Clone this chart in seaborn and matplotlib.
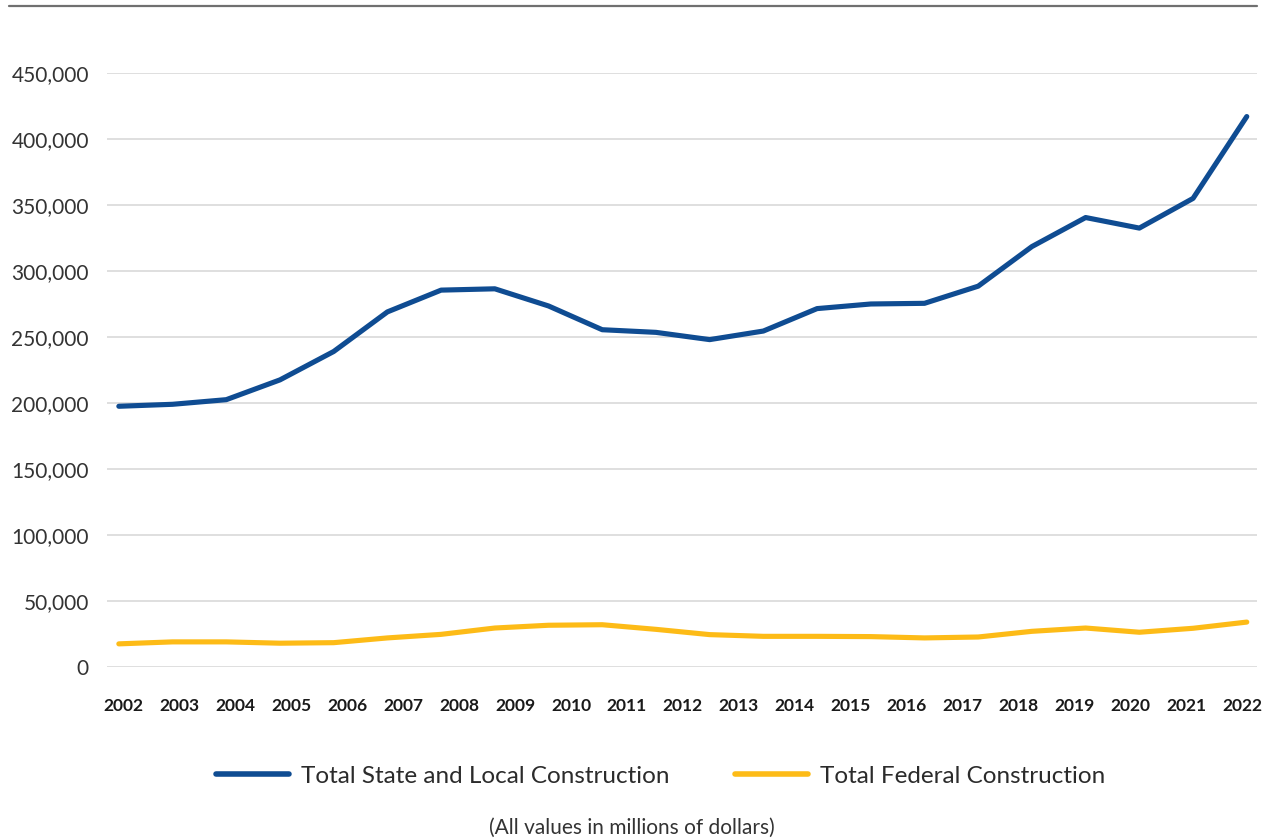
import numpy as np
import pandas as pd
import matplotlib
matplotlib.use("Agg")
import matplotlib.pyplot as plt
import seaborn as sns
from matplotlib.lines import Line2D


# values (millions of dollars)
YEARS = [str(y) for y in range(2002, 2023)]
STATE_LOCAL = [197500, 199000, 202500, 217500, 239000, 269000, 285500, 286500,
               273500, 255500, 253500, 248000, 254500, 271500, 275000, 275500,
               288500, 318500, 340500, 332500, 355000, 417000]
FEDERAL = [17500, 19000, 19000, 18000, 18400, 22000, 24700, 29500,
           31600, 32000, 28500, 24500, 23200, 23200, 23000, 22000,
           22700, 27000, 29500, 26300, 29300, 34000]
SERIES = ["Total State and Local Construction", "Total Federal Construction"]
COLORS = ["#0f4c92", "#fdbb17"]
Y_TICKS = [0, 50000, 100000, 150000, 200000, 250000, 300000, 350000, 400000, 450000]


def build_frame():
    """Long table for seaborn."""
    idx = np.arange(len(STATE_LOCAL))
    df = pd.concat([
        pd.DataFrame({"point": idx, "value": STATE_LOCAL, "series": SERIES[0]}),
        pd.DataFrame({"point": idx, "value": FEDERAL, "series": SERIES[1]}),
    ])
    return df


def draw(df):
    sns.set_theme(style="white")
    plt.rcParams["font.family"] = ["Lato", "DejaVu Sans"]
    plt.rcParams["text.color"] = "#2b2b2b"

    fig = plt.figure(figsize=(12.68, 8.4), dpi=100)
    ax = fig.add_axes([0.0844, 0.2060, 0.9069, 0.7071])

    sns.lineplot(
        data=df,
        x="point",
        y="value",
        hue="series",
        palette=COLORS,
        linewidth=3.7,
        legend=False,
        ax=ax,
    )
    for line in ax.lines:
        line.set_solid_capstyle("round")
        line.set_solid_joinstyle("round")

    ax.set_ylim(0, 450000)
    ax.set_xlim(-0.22, 21.19)
    ax.set_yticks(Y_TICKS)
    ax.set_yticklabels([f"{v:,}" for v in Y_TICKS], fontsize=15,
                       fontweight="normal", color="#333333")
    ax.set_xticks(np.linspace(0.09, 20.91, len(YEARS)))
    ax.set_xticklabels(YEARS, fontsize=12.5, fontweight="bold", color="#1a1a1a")
    ax.tick_params(axis="y", length=0, pad=13)
    ax.tick_params(axis="x", length=0, pad=22)
    ax.grid(axis="y", color="#d9d9d9", linewidth=1.2)
    ax.grid(axis="x", visible=False)
    ax.set_axisbelow(True)
    for s in ax.spines.values():
        s.set_visible(False)
    ax.set_xlabel("")
    ax.set_ylabel("")

    # dark rule along the top of the figure
    fig.add_artist(Line2D([9 / 1268, 1257 / 1268], [1 - 6 / 840, 1 - 6 / 840],
                          color="#707070", linewidth=1.6))

    handles = [Line2D([0], [0], color=c, linewidth=4, solid_capstyle="round")
               for c in COLORS]
    fig.legend(handles, SERIES, loc="center", bbox_to_anchor=(0.521, 1 - 776 / 840),
               ncol=2, frameon=False, handlelength=3.0,
               handletextpad=0.5, columnspacing=2.7,
               prop={"size": 17.5, "weight": "normal"})

    fig.text(0.498, 1 - 828 / 840, "(All values in millions of dollars)",
             ha="center", va="center", fontsize=15, fontweight="normal",
             color="#333333")

    fig.savefig("out.png", dpi=100)
    plt.close(fig)


if __name__ == "__main__":
    draw(build_frame())
